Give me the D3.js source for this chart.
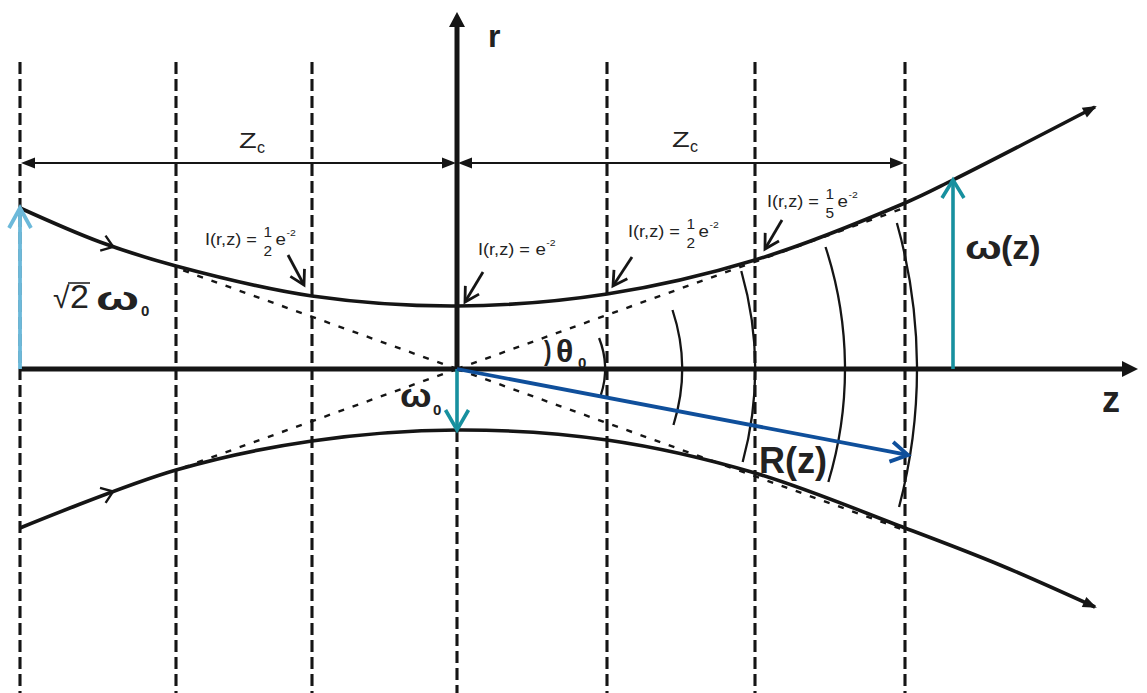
<!DOCTYPE html>
<html><head><meta charset="utf-8">
<script src="https://cdn.jsdelivr.net/npm/d3@7"></script>
<style>body{margin:0;background:#fff}svg{display:block;font-family:"Liberation Sans",Arial,sans-serif}</style>
</head><body>
<svg id="c" width="1147" height="693"></svg>
<script>
// ---------- data (diagram units along z and r) ----------
const guideZ = [-4.37, -2.81, -1.45, 0, 1.50, 2.98, 4.48];
const guideTop = 3.07, guideBottom = -3.24;
const upperZ = [-4.37, -3.57, -2.81, -1.45, 0, 1.50, 2.98, 4.48, 4.96, 6.38];
const upperR = [1.61, 1.27, 1.03, 0.73, 0.63, 0.75, 1.09, 1.66, 1.89, 2.62];
const lowerZ = [-4.37, -2.81, -1.45, 0, 1.50, 2.98, 4.48, 5.43, 6.38];
const lowerR = [-1.59, -1.01, -0.72, -0.61, -0.71, -1.04, -1.59, -1.96, -2.38];
const waistR = [0.63, -0.61];
const divergence = 0.36;
const asymptoteEnds = [-2.81, 4.48];
const wavefrontApex = [1.48, 2.25, 2.98, 3.88, 4.60];
const wavefrontTop = [0.31, 0.59, 0.98, 1.22, 1.46];
const wavefrontBottom = [-0.26, -0.56, -0.93, -1.13, -1.38];
const wavefrontRadius = [0.84, 1.88, 3.57, 3.92, 5.40];
const zcStart = [-4.37, 0], zcEnd = [0, 4.48], zcLevel = 2.06;
const zAxisRange = [-4.37, 6.81], rAxisTop = 3.57;
const inputR = 1.61, inputZ = -4.37;
const wzZ = 4.96, wzR = 1.89;
const radiusEnd = [4.51, -0.86];
const pointerFrom = [[-1.69, 1.14], [0.26, 0.97], [1.75, 1.12], [3.25, 1.49]];
const pointerTo = [[-1.53, 0.84], [0.08, 0.67], [1.56, 0.83], [3.08, 1.20]];
const fracNum = ["1", "", "1", "1"];
const fracDen = ["2", "", "2", "5"];
const flowMarkZ = -3.44;

// ---------- scales ----------
const x = d3.scaleLinear().domain([-4.57, 6.90]).range([0, 1147]);
const y = d3.scaleLinear().domain([3.69, -3.24]).range([0, 693]);
const svg = d3.select("#c");

const INK = "#151515", TEAL = "#17909f", LIGHT = "#6cb9da", NAVY = "#0f4f9b";

function arrow(g, x0, y0, x1, y1, o) {
  const color = o.color || INK, w = o.width || 2, len = o.len || 12, hw = o.hw || 5;
  const a = Math.atan2(y1 - y0, x1 - x0), ux = Math.cos(a), uy = Math.sin(a);
  const bx = x1 - ux * len, by = y1 - uy * len, px = -uy, py = ux;
  if (o.head === "open") {
    g.append("line").attr("x1", x0).attr("y1", y0).attr("x2", x1 - ux * w * 0.5).attr("y2", y1 - uy * w * 0.5)
      .attr("stroke", color).attr("stroke-width", w);
    g.append("path").attr("d", `M${bx + px * hw},${by + py * hw}L${x1},${y1}L${bx - px * hw},${by - py * hw}`)
      .attr("fill", "none").attr("stroke", color).attr("stroke-width", w).attr("stroke-linejoin", "miter");
  } else {
    g.append("line").attr("x1", x0).attr("y1", y0).attr("x2", bx + ux * 2).attr("y2", by + uy * 2)
      .attr("stroke", color).attr("stroke-width", w);
    g.append("path").attr("d", `M${x1},${y1}L${bx + px * hw},${by + py * hw}L${bx - px * hw},${by - py * hw}Z`).attr("fill", color);
  }
}

// ---------- dashed guide lines ----------
const gGuide = svg.append("g").attr("stroke", INK).attr("stroke-width", 3.1).attr("stroke-dasharray", "12,5");
guideZ.forEach(z => {
  const top = z === 0 ? waistR[1] : guideTop;
  gGuide.append("line").attr("x1", x(z)).attr("x2", x(z)).attr("y1", y(top)).attr("y2", y(guideBottom));
});

// ---------- asymptotes (dotted) ----------
const gAs = svg.append("g").attr("stroke", INK).attr("stroke-width", 2.4).attr("stroke-dasharray", "6,9");
asymptoteEnds.forEach(z => {
  [1, -1].forEach(s => {
    gAs.append("line").attr("x1", x(0)).attr("y1", y(0)).attr("x2", x(z)).attr("y2", y(s * divergence * Math.abs(z)));
  });
});

// ---------- wavefronts ----------
const gW = svg.append("g").attr("fill", "none").attr("stroke", INK).attr("stroke-width", 2.3);
wavefrontApex.forEach((ap, i) => {
  const R = wavefrontRadius[i], c = ap - R;
  const zt = c + Math.sqrt(R * R - wavefrontTop[i] ** 2);
  const zb = c + Math.sqrt(R * R - wavefrontBottom[i] ** 2);
  const rp = x(R) - x(0);
  gW.append("path").attr("d", `M${x(zt)},${y(wavefrontTop[i])}A${rp},${rp} 0 0 1 ${x(zb)},${y(wavefrontBottom[i])}`);
});

// ---------- axes ----------
const gAx = svg.append("g");
arrow(gAx, x(zAxisRange[0]), y(0), x(zAxisRange[1]), y(0), { width: 5, len: 16, hw: 8 });
arrow(gAx, x(0), y(0) + 2.5, x(0), y(rAxisTop), { width: 5, len: 15, hw: 8 });

// ---------- beam envelope ----------
const line = d3.line().x(d => x(d[0])).y(d => y(d[1])).curve(d3.curveCatmullRom.alpha(0.5));
const upPts = upperZ.map((z, i) => [z, upperR[i]]);
const loPts = lowerZ.map((z, i) => [z, lowerR[i]]);
const gB = svg.append("g");
const upPath = gB.append("path").attr("d", line(upPts)).attr("fill", "none").attr("stroke", INK).attr("stroke-width", 3.6);
const loPath = gB.append("path").attr("d", line(loPts)).attr("fill", "none").attr("stroke", INK).attr("stroke-width", 3.6);
[upPath, loPath].forEach(p => {
  const node = p.node(), L = node.getTotalLength();
  const e1 = node.getPointAtLength(L - 14), e2 = node.getPointAtLength(L);
  const ang = Math.atan2(e2.y - e1.y, e2.x - e1.x), ux = Math.cos(ang), uy = Math.sin(ang);
  gB.append("path").attr("d", `M${e2.x + ux * 2},${e2.y + uy * 2}L${e2.x - ux * 12 - uy * 5.5},${e2.y - uy * 12 + ux * 5.5}L${e2.x - ux * 12 + uy * 5.5},${e2.y - uy * 12 - ux * 5.5}Z`).attr("fill", INK);
  // flow chevron
  let best = 0, bd = 1e9;
  for (let l = 0; l < L; l += 0.5) { const q = node.getPointAtLength(l); const d = Math.abs(q.x - x(flowMarkZ)); if (d < bd) { bd = d; best = l; } }
  const q0 = node.getPointAtLength(best - 3), q1 = node.getPointAtLength(best + 3), qm = node.getPointAtLength(best);
  const an = Math.atan2(q1.y - q0.y, q1.x - q0.x), cx = Math.cos(an), cy = Math.sin(an);
  gB.append("path").attr("d", `M${qm.x - cx * 11 - cy * 8},${qm.y - cy * 11 + cx * 8}L${qm.x},${qm.y}L${qm.x - cx * 11 + cy * 8},${qm.y - cy * 11 - cx * 8}`)
    .attr("fill", "none").attr("stroke", INK).attr("stroke-width", 2.4);
});

// ---------- Zc dimension lines ----------
const gZc = svg.append("g");
zcStart.forEach((s, i) => {
  const xa = x(s), xb = x(zcEnd[i]), yy = y(zcLevel);
  gZc.append("line").attr("x1", xa + 8).attr("x2", xb - 8).attr("y1", yy).attr("y2", yy).attr("stroke", INK).attr("stroke-width", 2.2);
  gZc.append("path").attr("d", `M${xa + 1},${yy}L${xa + 15},${yy - 5.5}L${xa + 15},${yy + 5.5}Z`).attr("fill", INK);
  gZc.append("path").attr("d", `M${xb - 1},${yy}L${xb - 15},${yy - 5.5}L${xb - 15},${yy + 5.5}Z`).attr("fill", INK);
});

// ---------- coloured arrows ----------
const gC = svg.append("g");
arrow(gC, x(inputZ), y(0), x(inputZ), y(inputR), { color: LIGHT, width: 3.8, head: "open", len: 20, hw: 11 });
arrow(gC, x(0), y(0), x(0), y(waistR[1]), { color: TEAL, width: 3.6, head: "open", len: 20, hw: 11.5 });
arrow(gC, x(wzZ), y(0), x(wzZ), y(wzR), { color: TEAL, width: 3.6, head: "open", len: 18, hw: 11 });
arrow(gC, x(0), y(0), x(radiusEnd[0]), y(radiusEnd[1]), { color: NAVY, width: 3.8, head: "open", len: 17, hw: 10 });

// ---------- pointer arrows ----------
pointerFrom.forEach((p, i) => {
  arrow(svg, x(p[0]), y(p[1]), x(pointerTo[i][0]), y(pointerTo[i][1]), { width: 2.8, head: "open", len: 14, hw: 8 });
});

// ---------- intensity labels ----------
const labelPos = [[205, 245], [478, 255], [628, 237], [767, 207]];
labelPos.forEach((p, i) => {
  const g = svg.append("g").attr("transform", `translate(${p[0]},${p[1]}) scale(1.1,1)`).attr("fill", "#222");
  const t = g.append("text").attr("font-size", 16.5).text("I(r,z) =");
  let cx = t.node().getComputedTextLength() + 5;
  if (fracNum[i]) {
    g.append("text").attr("x", cx + 5).attr("y", -8).attr("font-size", 14).attr("text-anchor", "middle").text(fracNum[i]);
    g.append("text").attr("x", cx + 5).attr("y", 11).attr("font-size", 14).attr("text-anchor", "middle").text(fracDen[i]);
    cx += 12;
  }
  const e = g.append("text").attr("x", cx).attr("font-size", 17).text("e");
  const ew = e.node().getComputedTextLength();
  g.append("text").attr("x", cx + ew + 0.5).attr("y", -9).attr("font-size", 9.5).text("-2");
});

// ---------- Zc labels ----------
[[239, 148], [672, 147]].forEach(p => {
  const g = svg.append("g").attr("transform", `translate(${p[0]},${p[1]})`).attr("fill", "#222");
  g.append("text").attr("font-size", 22).attr("transform", "scale(1.32,1)").text("Z");
  g.append("text").attr("x", 18).attr("y", 5).attr("font-size", 16).text("c");
});

// ---------- axis & symbol labels ----------
const txt = (x0, y0, s, size, weight, sx) => svg.append("text")
  .attr("transform", `translate(${x0},${y0}) scale(${sx || 1},1)`).attr("font-size", size)
  .attr("font-weight", weight || "normal").attr("fill", "#222").text(s);
txt(488, 47, "r", 32, "bold");
txt(1102, 412, "z", 36, "bold");
// sqrt(2) omega_0
txt(53, 308, "\u221A", 30, "normal");
txt(70, 308, "2", 34, "normal");
svg.append("line").attr("x1", 68).attr("x2", 90).attr("y1", 283).attr("y2", 283).attr("stroke", "#222").attr("stroke-width", 1.6);
txt(96, 310, "\u03C9", 34, "bold", 1.5);
txt(141, 316, "0", 15, "bold");
// omega_0 at waist
txt(400, 407, "\u03C9", 34, "bold", 1.1);
txt(433, 415, "0", 15, "bold");
// theta_0
txt(544, 360, ")", 28, "bold", 0.8);
txt(556, 362, "\u03B8", 32, "bold");
txt(578, 368, "0", 15, "bold");
// omega(z)
txt(965, 259, "\u03C9", 34, "bold", 1.28);
txt(1001, 259, "(z)", 34, "bold");
// R(z)
txt(759, 473, "R(z)", 36, "bold");
</script>
</body></html>
